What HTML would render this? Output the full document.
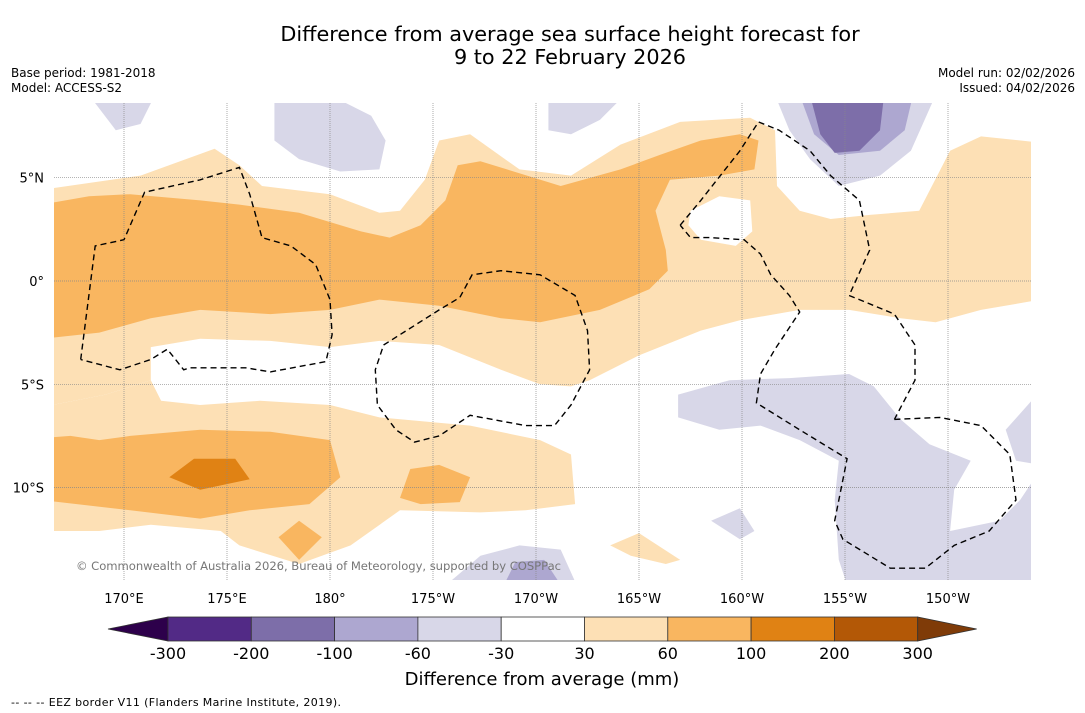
<!DOCTYPE html>
<html><head><meta charset="utf-8">
<style>
body{margin:0;background:#fff;width:1085px;height:713px;overflow:hidden;font-family:"DejaVu Sans","Liberation Sans",sans-serif;}
svg{display:block}
svg text{font-family:"DejaVu Sans","Liberation Sans",sans-serif;}
</style></head>
<body>
<svg id="chart" width="1085" height="713" viewBox="0 0 1085 713">
  <text x="570" y="41" font-size="20.8" text-anchor="middle">Difference from average sea surface height forecast for</text>
  <text x="570" y="64" font-size="20.8" text-anchor="middle">9 to 22 February 2026</text>
  <text x="11" y="77" font-size="12">Base period: 1981-2018</text>
  <text x="11" y="92" font-size="12">Model: ACCESS-S2</text>
  <text x="1075" y="77" font-size="12" text-anchor="end">Model run: 02/02/2026</text>
  <text x="1075" y="92" font-size="12" text-anchor="end">Issued: 04/02/2026</text>
  <defs><clipPath id="mapclip"><rect x="54" y="103" width="977" height="477"/></clipPath></defs>
  <g id="map" clip-path="url(#mapclip)">
    <rect x="54" y="103" width="977" height="477" fill="#fff"/>
    <g id="fills"></g>
    <g id="grid"></g>
    <g id="eez"></g>
  </g>
  <g id="xticks"></g>
  <g id="yticks"></g>
  <text x="76" y="570" font-size="11.6" fill="#777" textLength="485">© Commonwealth of Australia 2026, Bureau of Meteorology, supported by COSPPac</text>
  <g id="colorbar"></g>
  <text x="542" y="685" font-size="18" text-anchor="middle">Difference from average (mm)</text>
  <text x="11" y="706" font-size="11" textLength="330">--  --  -- EEZ border V11 (Flanders Marine Institute, 2019).</text>
</svg>
<script>
// ---- data (lon in degrees east 0-360, lat in degrees) ----
const lonTicks = [170,175,180,185,190,195,200,205,210];
const lonTickLabels = ["170°E","175°E","180°","175°W","170°W","165°W","160°W","155°W","150°W"];
const latTicks = [5,0,-5,-10];
const latTickLabels = ["5°N","0°","5°S","10°S"];
const cbLevels = ["-300","-200","-100","-60","-30","30","60","100","200","300"];
const cbColors = ["#522a86","#7d6ea9","#ada7d0","#d8d7e8","#ffffff","#fde0b5","#f9b660","#e08214","#b35806"];
const cbUnder = "#2d004b", cbOver = "#7f3b08";

const lightOrange1 = [[166.6,4.5],[170.8,5.1],[174.4,6.4],[175.6,5.6],[176.7,4.6],[180,4.2],[182.4,3.3],[183.4,3.4],[184.6,4.9],[185.3,6.8],[186.8,7.1],[189.2,5.4],[191.7,5.1],[194.1,6.6],[197,7.7],[200.4,7.9],[201.6,7.3],[201.7,4.6],[202.8,3.4],[204.3,3.0],[206.2,3.2],[208.6,3.4],[210.1,6.3],[211.6,7.0],[214.5,6.7],[214.5,-0.9],[211.6,-1.4],[209.4,-2.0],[207.7,-1.8],[205.2,-1.4],[202.8,-1.4],[199.9,-1.9],[198,-2.4],[195,-3.6],[192.6,-4.8],[191.7,-5.1],[190.2,-5.0],[188.3,-4.3],[185.3,-3.1],[182.4,-2.9],[180,-3.2],[177.1,-2.9],[173.7,-2.8],[171.3,-3.2],[171.3,-4.8],[169.1,-5.5],[166,-6.1],[166,4.5]];
const lightOrange2 = [[166,-6.1],[169.1,-5.5],[171.3,-4.8],[171.8,-5.8],[173.7,-6.0],[176.6,-5.8],[180,-6.0],[182.4,-6.6],[186.8,-7.0],[190.2,-7.7],[191.7,-8.4],[191.9,-10.8],[189.5,-11.1],[187.3,-11.2],[183.4,-11.1],[181,-12.8],[178.5,-13.7],[175.6,-12.8],[174.7,-12.1],[171.3,-11.8],[168.8,-12.1],[166,-12.1]];
const lightOrange3 = [[193.6,-12.8],[195,-12.2],[197,-13.5],[196.3,-13.7],[194.6,-13.3]];
const midOrange1 = [[166,3.7],[168.3,4.1],[170.3,4.2],[173.7,3.9],[175.6,3.7],[178.5,3.3],[181.5,2.4],[182.9,2.1],[184.4,2.7],[185.6,3.9],[186.2,5.6],[187.3,5.8],[191.2,4.6],[194.1,5.4],[196,6.1],[198,6.8],[199.9,7.1],[200.8,6.8],[200.6,5.4],[198.9,5.1],[196.5,4.9],[195.8,3.4],[196.3,1.5],[196.4,0.5],[195.5,-0.4],[193.1,-1.4],[190.2,-2.0],[188.3,-1.8],[185.3,-1.2],[182.4,-0.9],[180,-1.4],[177.1,-1.6],[173.7,-1.4],[171.3,-1.8],[168.8,-2.5],[166,-2.8]];
const midOrange2 = [[166,-7.6],[167.4,-7.5],[168.8,-7.7],[170.3,-7.5],[173.7,-7.2],[177.1,-7.3],[180,-7.7],[180.5,-9.5],[179,-10.8],[176.1,-11.1],[173.7,-11.5],[170.3,-11.1],[166,-10.6]];
const midOrange3 = [[183.4,-10.5],[183.9,-9.1],[185.3,-8.9],[186.8,-9.5],[186.3,-10.7],[184.4,-10.8]];
const midOrange4 = [[177.5,-12.4],[178.5,-11.6],[179.6,-12.4],[178.5,-13.5]];
const darkOrange1 = [[172.2,-9.5],[173.4,-8.6],[175.4,-8.6],[176.1,-9.6],[173.7,-10.1]];
const whiteHole1 = [[197.5,3.4],[198.9,4.1],[200.4,3.9],[200.5,2.4],[199.7,1.7],[198,2.0],[197.4,2.7]];
const lightPurple1 = [[168.3,9],[171.5,9],[170.8,7.6],[169.6,7.3]];
const lightPurple2 = [[177.3,9],[180,9],[182,8.0],[182.7,6.8],[182.4,5.4],[180.5,5.3],[178.5,5.9],[177.3,6.8]];
const lightPurple3 = [[190.6,9],[194.3,9],[193.1,7.8],[191.7,7.1],[190.6,7.3]];
const lightPurple4 = [[201.6,9],[209.4,9],[208.2,6.3],[206.7,5.1],[204.7,4.6],[203.3,5.9],[202.3,7.3]];
const lightPurple5 = [[196.9,-5.5],[199.4,-4.8],[202.3,-4.7],[205.2,-4.5],[206.4,-5.1],[207.7,-6.7],[209.1,-7.9],[211.1,-8.7],[210.3,-10.1],[210.1,-12.1],[212.5,-11.6],[213.5,-10.6],[214.5,-9.1],[214.5,-15],[205.2,-15],[204.7,-13.5],[204.5,-10.6],[204.7,-8.7],[202.8,-7.7],[200.9,-7.0],[198.9,-7.2],[196.9,-6.6]];
const lightPurple6 = [[212.8,-7.2],[214.5,-5.3],[214.5,-8.9],[213.3,-8.7]];
const lightPurple7 = [[198.5,-11.6],[199.9,-11.0],[200.6,-12.1],[199.9,-12.5]];
const lightPurple8 = [[185.3,-15],[187.3,-13.3],[189.2,-12.8],[191.2,-13.0],[192.1,-15]];
const midPurple4 = [[202.8,9],[208.3,9],[207.9,7.3],[206.7,6.3],[204.7,6.1],[203.5,7.1]];
const midPurple8 = [[188.3,-15],[189,-13.6],[190.4,-13.5],[191.4,-15]];
const darkPurple4 = [[203.3,9],[206.9,9],[206.7,7.3],[205.7,6.3],[204.5,6.2],[203.8,7.1]];
const eez1 = [[167.9,-3.8],[168.6,1.7],[170,2.0],[171,4.3],[173.7,4.9],[175.6,5.5],[176.1,4.2],[176.7,2.1],[178.1,1.7],[179.3,0.8],[180,-0.9],[180.1,-2.6],[179.8,-3.9],[177.1,-4.4],[175.9,-4.2],[173.2,-4.2],[172.9,-4.3],[172.1,-3.3],[171.3,-3.8],[169.8,-4.3],[167.9,-3.8]];
const eez2 = [[182.6,-3.1],[185.3,-1.4],[186.3,-0.8],[186.9,0.3],[188.3,0.5],[190.2,0.3],[191.9,-0.7],[192.5,-2.4],[192.6,-4.3],[191.7,-6.0],[190.9,-7.0],[189.5,-7.0],[186.8,-6.5],[185.3,-7.5],[184.1,-7.8],[183.2,-7.2],[182.3,-6.0],[182.2,-4.3],[182.6,-3.1]];
const eez3 = [[197,2.7],[198,3.9],[199.9,6.3],[200.8,7.7],[201.8,7.3],[203.3,6.3],[204.3,5.1],[205.7,3.9],[206.2,1.5],[205.2,-0.7]];
const eez4 = [[205.2,-0.7],[205.7,-0.9],[207.4,-1.6],[208.4,-3.1],[208.4,-4.8],[207.4,-6.7]];
const eez5 = [[207.4,-6.7],[209.6,-6.6],[211.6,-7.0],[213,-8.4],[213.3,-10.6],[212,-12.1],[210.3,-12.8],[208.9,-13.9],[207.2,-13.9],[204.9,-12.5],[204.5,-11.6],[205.1,-8.6],[202.8,-7.2],[200.7,-5.9],[200.9,-4.5],[201.6,-3.3],[202.8,-1.5],[202.3,-0.7],[201.4,0.3],[200.9,1.3],[200.1,2.0],[198.4,2.1],[197.5,2.1],[197,2.7]];

// ---- axis functions ----
const X0=124, PX_PER_DEG=20.6, Y0=281, PY_PER_DEG=20.66;
function xs(lon){return X0+(lon-170)*PX_PER_DEG;}
function ys(lat){return Y0-lat*PY_PER_DEG;}
const NS='http://www.w3.org/2000/svg';
function mk(tag,attrs,parent){const e=document.createElementNS(NS,tag);for(const k in attrs)e.setAttribute(k,attrs[k]);parent.appendChild(e);return e;}
function pts(arr){return arr.map(p=>xs(p[0]).toFixed(1)+','+ys(p[1]).toFixed(1)).join(' ');}

const fills=document.getElementById('fills');
const layers=[
 [lightOrange1,cbColors[5],'contour-30-60-north'],[lightOrange2,cbColors[5],'contour-30-60-south'],[lightOrange3,cbColors[5],'contour-30-60-patch'],
 [midOrange1,cbColors[6],'contour-60-100-north'],[midOrange2,cbColors[6],'contour-60-100-south'],[midOrange3,cbColors[6],'contour-60-100-patch-a'],[midOrange4,cbColors[6],'contour-60-100-patch-b'],
 [darkOrange1,cbColors[7],'contour-100-200'],[whiteHole1,'#ffffff','contour-neutral-hole'],
 [lightPurple1,cbColors[3],'contour-neg30-60-a'],[lightPurple2,cbColors[3],'contour-neg30-60-b'],[lightPurple3,cbColors[3],'contour-neg30-60-c'],[lightPurple4,cbColors[3],'contour-neg30-60-d'],[lightPurple5,cbColors[3],'contour-neg30-60-e'],[lightPurple6,cbColors[3],'contour-neg30-60-f'],[lightPurple7,cbColors[3],'contour-neg30-60-g'],[lightPurple8,cbColors[3],'contour-neg30-60-h'],
 [midPurple4,cbColors[2],'contour-neg60-100-a'],[midPurple8,cbColors[2],'contour-neg60-100-b'],[darkPurple4,cbColors[1],'contour-neg100-200']
];
layers.forEach(l=>{
  const p=mk('polygon',{points:pts(l[0]),fill:l[1]},fills);
  
  
});

const grid=document.getElementById('grid');
lonTicks.forEach(lon=>{
  const g=mk('line',{x1:xs(lon),x2:xs(lon),y1:103,y2:580,stroke:'#888','stroke-width':0.7,'stroke-dasharray':'1,1'},grid);
  
  
});
latTicks.forEach(lat=>{
  const g=mk('line',{x1:54,x2:1031,y1:ys(lat),y2:ys(lat),stroke:'#888','stroke-width':0.7,'stroke-dasharray':'1,1'},grid);
  
  
});

const eez=document.getElementById('eez');
[eez1,eez2,eez3,eez4,eez5].forEach(a=>{
  const l=mk('polyline',{points:pts(a),fill:'none',stroke:'#000','stroke-width':1.4,'stroke-dasharray':'6,4'},eez);
  
  
});

const xt=document.getElementById('xticks');
lonTicks.forEach((lon,i)=>{
  const t=mk('text',{x:xs(lon),y:603,'font-size':13,'text-anchor':'middle'},xt);
  t.textContent=lonTickLabels[i];
  
  
});
const yt=document.getElementById('yticks');
latTicks.forEach((lat,i)=>{
  const t=mk('text',{x:44,y:ys(lat)+5,'font-size':13,'text-anchor':'end'},yt);
  t.textContent=latTickLabels[i];
  
  
});

// colorbar
const cb=document.getElementById('colorbar');
const CB_L=168, CB_W=83.3, CB_T=617, CB_H=24;
const tri1=mk('polygon',{points:`108,${CB_T+CB_H/2} ${CB_L},${CB_T} ${CB_L},${CB_T+CB_H}`,fill:cbUnder,stroke:'#333','stroke-width':0.8},cb);


cbColors.forEach((c,i)=>{
  const r=mk('rect',{x:CB_L+i*CB_W,y:CB_T,width:CB_W,height:CB_H,fill:c,stroke:'#333','stroke-width':0.8},cb);
  
  
});
const xe=CB_L+cbColors.length*CB_W;
const tri2=mk('polygon',{points:`${xe},${CB_T} ${xe+59},${CB_T+CB_H/2} ${xe},${CB_T+CB_H}`,fill:cbOver,stroke:'#333','stroke-width':0.8},cb);


cbLevels.forEach((lv,i)=>{
  const t=mk('text',{x:CB_L+i*CB_W,y:659,'font-size':16,'text-anchor':'middle'},cb);
  t.textContent=lv;
  
  
});
</script>
</body></html>
